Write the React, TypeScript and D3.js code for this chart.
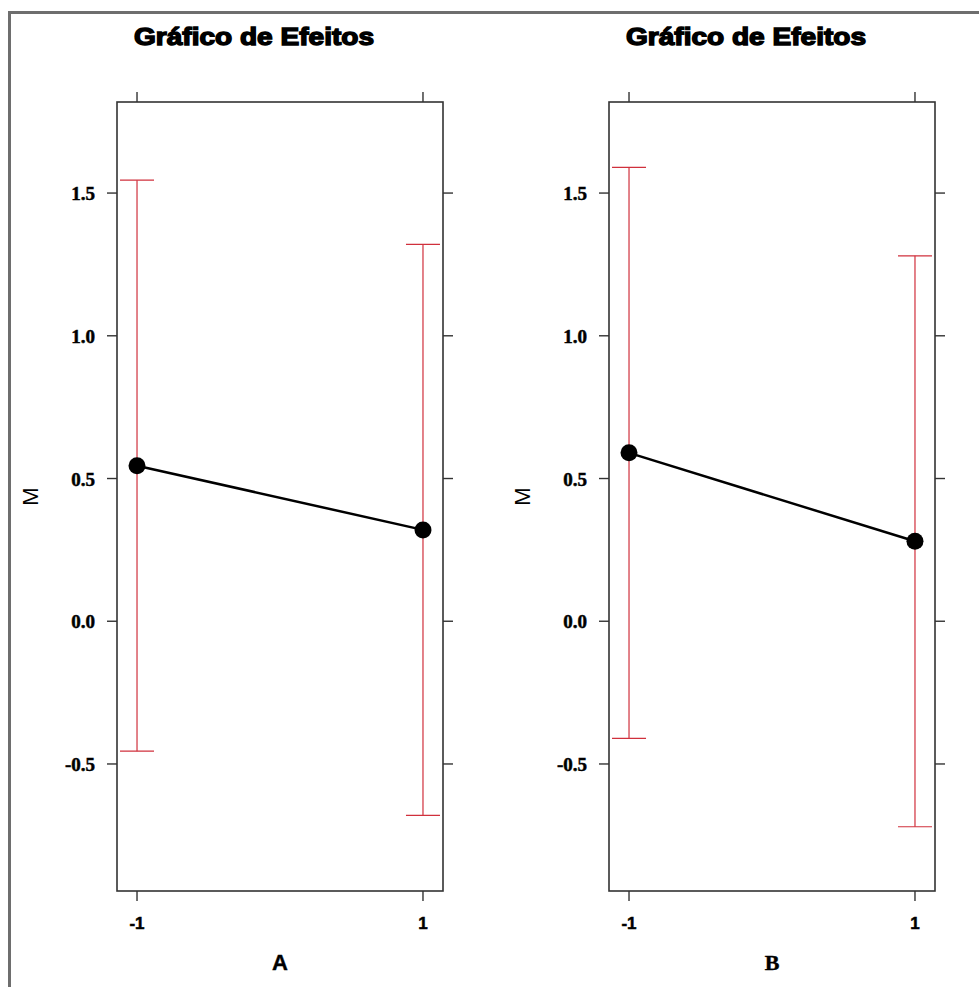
import React from "react";
import * as d3 from "d3";

const factors = ["A", "B"];
const levels = [-1, 1];
const levelLabels = ["-1", "1"];
const meansA = [0.545, 0.32];
const lowerA = [-0.455, -0.68];
const upperA = [1.545, 1.32];
const meansB = [0.59, 0.28];
const lowerB = [-0.41, -0.72];
const upperB = [1.59, 1.28];
const yTicks = [-0.5, 0.0, 0.5, 1.0, 1.5];
const yTickLabels = ["-0.5", "0.0", "0.5", "1.0", "1.5"];
const titleText = "Gráfico de Efeitos";
const yLabel = "M";

const panels = [
  { factor: factors[0], means: meansA, lower: lowerA, upper: upperA, xFont: "'Liberation Sans', Arial, sans-serif" },
  { factor: factors[1], means: meansB, lower: lowerB, upper: upperB, xFont: "'Liberation Serif', 'Times New Roman', serif" },
];

const W = 979;
const H = 987;
const boxTop = 102;
const boxBottom = 891;
const boxWidth = 326;
const panelLefts = [117, 609];
const red = "#d0303c";

export default function App() {
  const y = d3.scaleLinear().domain([-0.945, 1.819]).range([boxBottom, boxTop]);
  return (
    <svg
      width={W}
      height={H}
      style={{ position: "absolute", left: 0, top: 0, background: "#fff" }}
    >
      <rect x={0} y={0} width={W} height={H} fill="#fff" />
      {/* outer frame (top & left visible) */}
      <line x1={9} y1={12.5} x2={W} y2={12.5} stroke="#6e6e6e" strokeWidth={3} />
      <line x1={9.5} y1={11} x2={9.5} y2={H} stroke="#6e6e6e" strokeWidth={3} />
      {panels.map((p, pi) => {
        const left = panelLefts[pi];
        const right = left + boxWidth;
        const x = d3.scaleLinear().domain([-1.14, 1.14]).range([left, right]);
        const line = d3
          .line<number>()
          .x((_, i) => x(levels[i]))
          .y((d) => y(d));
        return (
          <g key={pi}>
            <text
              x={left + 137}
              y={45}
              textAnchor="middle"
              fontFamily="'Liberation Sans', Arial, sans-serif"
              fontWeight="bold"
              fontSize={24}
              stroke="#000"
              strokeWidth={1.4}
              textLength={240}
              lengthAdjust="spacingAndGlyphs"
            >
              {titleText}
            </text>
            {/* error bars */}
            {levels.map((lv, i) => {
              const cx = x(lv);
              return (
                <g key={"e" + i} stroke={red} strokeWidth={1.2}>
                  <line x1={cx} x2={cx} y1={y(p.lower[i])} y2={y(p.upper[i])} />
                  <line x1={cx - 17} x2={cx + 17} y1={y(p.upper[i])} y2={y(p.upper[i])} />
                  <line x1={cx - 17} x2={cx + 17} y1={y(p.lower[i])} y2={y(p.lower[i])} />
                </g>
              );
            })}
            <path d={line(p.means) || ""} fill="none" stroke="#000" strokeWidth={2.5} />
            {levels.map((lv, i) => (
              <circle key={"c" + i} cx={x(lv)} cy={y(p.means[i])} r={8.5} fill="#000" />
            ))}
            {/* box */}
            <rect
              x={left}
              y={boxTop}
              width={boxWidth}
              height={boxBottom - boxTop}
              fill="none"
              stroke="#333"
              strokeWidth={1.6}
            />
            {/* y ticks both sides */}
            {yTicks.map((t, i) => (
              <g key={"y" + i}>
                <line x1={left - 10} x2={left} y1={y(t)} y2={y(t)} stroke="#333" strokeWidth={1.4} />
                <line x1={right} x2={right + 10} y1={y(t)} y2={y(t)} stroke="#333" strokeWidth={1.4} />
                <text
                  x={left - 22}
                  y={y(t) + 7}
                  textAnchor="end"
                  fontFamily="'Liberation Serif', 'Times New Roman', serif"
                  fontWeight="bold"
                  fontSize={19}
                  stroke="#000"
                  strokeWidth={0.5}
                  fill="#000"
                >
                  {yTickLabels[i]}
                </text>
              </g>
            ))}
            {/* x ticks top & bottom */}
            {levels.map((lv, i) => (
              <g key={"x" + i}>
                <line x1={x(lv)} x2={x(lv)} y1={boxTop - 10} y2={boxTop} stroke="#333" strokeWidth={1.4} />
                <line x1={x(lv)} x2={x(lv)} y1={boxBottom} y2={boxBottom + 10} stroke="#333" strokeWidth={1.4} />
                <text
                  x={x(lv)}
                  y={929}
                  textAnchor="middle"
                  fontFamily="'Liberation Sans', Arial, sans-serif"
                  fontWeight="bold"
                  fontSize={17}
                  stroke="#000"
                  strokeWidth={0.5}
                >
                  {levelLabels[i]}
                </text>
              </g>
            ))}
            <text
              x={(left + right) / 2}
              y={970}
              textAnchor="middle"
              fontFamily={p.xFont}
              fontWeight="bold"
              fontSize={22}
              stroke="#000"
              strokeWidth={0.4}
            >
              {p.factor}
            </text>
            <text
              transform={`translate(${left - 79},${(boxTop + boxBottom) / 2}) rotate(-90)`}
              textAnchor="middle"
              fontFamily="'Liberation Sans', Arial, sans-serif"
              fontSize={22}
            >
              {yLabel}
            </text>
          </g>
        );
      })}
    </svg>
  );
}
